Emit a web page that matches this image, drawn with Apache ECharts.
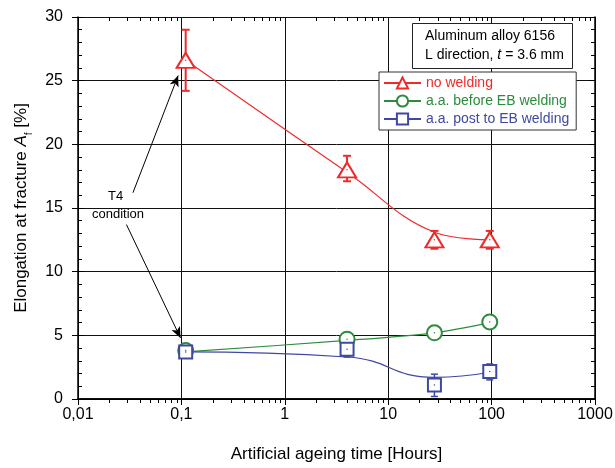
<!DOCTYPE html>
<html>
<head>
    <meta charset="utf-8"/>
    <title>Elongation at fracture</title>
    <script src="https://cdn.jsdelivr.net/npm/echarts@6/dist/echarts.min.js"></script>
    <style>
        html, body { margin: 0; padding: 0; background: #fff; }
        #chart1 { width: 615px; height: 468px; }
    </style>
</head>
<body>
<div id="chart1"></div>
<script type="text/javascript">
    // 数据
    var ageingTime = [0.11, 4, 28, 96];

    var noWelding = [26.6, 18.0, 12.5, 12.5];
    var noWeldingLow = [24.2, 17.1, 11.8, 11.8];
    var noWeldingHigh = [29.0, 19.1, 13.2, 13.2];
    var noWeldingFit = [26.6, 17.8, 13.1, 12.5];

    var beforeEB = [3.8, 4.7, 5.2, 6.05];
    var beforeEBLow = [3.5, 4.2, 5.0, 5.6];
    var beforeEBHigh = [4.0, 5.2, 5.4, 6.4];
    var beforeEBFit = [3.7, 4.6, 5.2, 6.0];

    var postEB = [3.7, 3.9, 1.1, 2.15];
    var postEBLow = [3.4, 3.3, 0.2, 1.5];
    var postEBHigh = [4.1, 4.6, 1.95, 2.75];
    var postEBFit = [3.7, 3.3, 1.7, 2.1];

    var seriesNames = ['no welding', 'a.a. before EB welding', 'a.a. post to EB welding'];
    var decades = [0.01, 0.1, 1, 10, 100];
    var minorSteps = [2, 3, 4, 5, 6, 7, 8, 9];

    var red = '#ee2b2b', green = '#2b8c3c', blue = '#3f48a3';
    var font = 'Liberation Sans, Arial, sans-serif';

    function pairs(ys) { return ageingTime.map(function (x, i) { return [x, ys[i]]; }); }
    function bars(lo, hi) { return ageingTime.map(function (x, i) { return [x, lo[i], hi[i]]; }); }

    // 对数轴次刻度 (2..9 x 10^n)
    var minorX = [];
    decades.forEach(function (d) { minorSteps.forEach(function (m) { minorX.push(d * m); }); });

    function errorBar(color, width, cap) {
        return function (params, api) {
            var x = api.value(0);
            var lo = api.coord([x, api.value(1)]);
            var hi = api.coord([x, api.value(2)]);
            var st = { stroke: color, lineWidth: width };
            return {
                type: 'group',
                children: [
                    { type: 'line', shape: { x1: lo[0], y1: lo[1], x2: hi[0], y2: hi[1] }, style: st },
                    { type: 'line', shape: { x1: lo[0] - cap, y1: lo[1], x2: lo[0] + cap, y2: lo[1] }, style: st },
                    { type: 'line', shape: { x1: hi[0] - cap, y1: hi[1], x2: hi[0] + cap, y2: hi[1] }, style: st }
                ]
            };
        };
    }

    function fmtX(v) { return String(parseFloat(v.toPrecision(6))).replace('.', ','); }

    function fitLine(name, ys, color, symbol, size, smooth) {
        return {
            name: name, type: 'line', data: pairs(ys), smooth: smooth,
            symbol: symbol, symbolSize: size, showSymbol: false,
            lineStyle: { color: color, width: 1.2 },
            itemStyle: { color: color, borderWidth: 1.2 },
            z: 3, silent: true
        };
    }

    function markers(ys, color, symbol, size) {
        return {
            type: 'scatter', data: pairs(ys), symbol: symbol, symbolSize: size,
            itemStyle: { color: color, borderColor: color, borderWidth: 1.3, opacity: 1 }, z: 5, silent: true
        };
    }

    function dots(ys, color) {
        return { type: 'scatter', data: pairs(ys), symbol: 'circle', symbolSize: 1.5,
            itemStyle: { color: color, opacity: 1 }, z: 6, silent: true };
    }

    var myChart1 = echarts.init(document.getElementById('chart1'));

    var yBase = { type: 'value', min: 0, max: 30, interval: 5 };

    myChart1.setOption({
        animation: false,
        backgroundColor: '#fff',
        textStyle: { fontFamily: font },
        title: {
            text: '{a|Aluminum alloy 6156}\n{a|L direction, }{i|t}{a| = 3.6 mm}',
            left: 412, top: 23,
            padding: [4, 9, 4, 13],
            borderColor: '#222', borderWidth: 1, backgroundColor: '#fff',
            textStyle: {
                fontFamily: font, fontWeight: 'normal', fontSize: 14, lineHeight: 19, color: '#000',
                rich: {
                    a: { fontFamily: font, fontSize: 14, lineHeight: 19, color: '#000' },
                    i: { fontFamily: font, fontSize: 14, lineHeight: 19, color: '#000', fontStyle: 'italic' }
                }
            }
        },
        legend: {
            orient: 'vertical', left: 379, top: 72,
            padding: [4, 7, 4, 4], itemGap: 4, itemWidth: 37, itemHeight: 14,
            borderColor: '#333', borderWidth: 1, backgroundColor: '#fff',
            selectedMode: false,
            textStyle: { fontFamily: font, fontSize: 14 },
            data: [
                { name: seriesNames[0], textStyle: { color: red } },
                { name: seriesNames[1], textStyle: { color: green } },
                { name: seriesNames[2], textStyle: { color: blue } }
            ]
        },
        grid: { left: 78, right: 20, top: 17, bottom: 69, outerBoundsMode: 'none' },
        xAxis: [{
            type: 'log', logBase: 10, min: 0.01, max: 1000, position: 'bottom',
            name: 'Artificial ageing time [Hours]', nameLocation: 'middle', nameGap: 47,
            nameTextStyle: { fontFamily: font, fontSize: 17, color: '#000' },
            axisLine: { lineStyle: { color: '#000', width: 1.5 } },
            axisTick: { show: true, length: 6, lineStyle: { color: '#000' } },
            axisLabel: { fontFamily: font, fontSize: 16, color: '#000', margin: 8, formatter: fmtX },
            splitLine: { show: true, lineStyle: { color: '#111', width: 1 } }
        }, {
            type: 'log', logBase: 10, min: 0.01, max: 1000, position: 'top',
            axisLine: { show: true, lineStyle: { color: '#000', width: 1.5 } },
            axisTick: { show: true, inside: true, length: 6, lineStyle: { color: '#000' } },
            axisLabel: { show: false }, splitLine: { show: false }
        }],
        yAxis: [Object.assign({}, yBase, {
            position: 'left',
            name: '{n|Elongation at fracture }{i|A}{s|f}{n| [%]}', nameLocation: 'middle', nameGap: 40,
            nameTextStyle: {
                fontFamily: font, fontSize: 17, color: '#000',
                rich: {
                    n: { fontFamily: font, fontSize: 17, color: '#000', lineHeight: 20 },
                    i: { fontFamily: font, fontSize: 17, color: '#000', fontStyle: 'italic', lineHeight: 20 },
                    s: { fontFamily: font, fontSize: 10, color: '#000', lineHeight: 26, verticalAlign: 'bottom' }
                }
            },
            axisLine: { show: true, lineStyle: { color: '#000', width: 1.5 } },
            axisTick: { show: true, length: 6, lineStyle: { color: '#000' } },
            axisLabel: { fontFamily: font, fontSize: 16, color: '#000', margin: 15 },
            splitLine: { show: true, lineStyle: { color: '#111', width: 1 } }
        }), Object.assign({}, yBase, {
            position: 'left',
            axisLine: { show: false },
            axisTick: { show: true, inside: true, length: 6, lineStyle: { color: '#000' } },
            minorTick: { show: true, splitNumber: 5, length: 4, lineStyle: { color: '#000' } },
            axisLabel: { show: false }, splitLine: { show: false }
        }), Object.assign({}, yBase, {
            position: 'right',
            axisLine: { show: true, lineStyle: { color: '#000', width: 1.5 } },
            axisTick: { show: true, inside: true, length: 6, lineStyle: { color: '#000' } },
            minorTick: { show: true, splitNumber: 5, length: 4, lineStyle: { color: '#000' } },
            axisLabel: { show: false }, splitLine: { show: false }
        })],
        series: [
            Object.assign(fitLine(seriesNames[0], noWeldingFit, red, 'emptyTriangle', [18, 15], 0.4), {
                markLine: {
                    silent: true, symbol: ['none', 'arrow'], symbolSize: [7, 11],
                    label: { show: false },
                    lineStyle: { color: '#000', width: 1, type: 'solid' },
                    data: [
                        [{ coord: [0.034, 16.2] }, { coord: [0.093, 25.4] }],
                        [{ coord: [0.0294, 13.7] }, { coord: [0.098, 4.8] }]
                    ]
                }
            }),
            fitLine(seriesNames[1], beforeEBFit, green, 'emptyCircle', 14, 0.3),
            fitLine(seriesNames[2], postEBFit, blue, 'emptyRect', 13, 0.5),

            { type: 'custom', renderItem: errorBar(red, 2, 4), data: bars(noWeldingLow, noWeldingHigh), silent: true, z: 4 },
            { type: 'custom', renderItem: errorBar(green, 1.5, 3.5), data: bars(beforeEBLow, beforeEBHigh), silent: true, z: 4 },
            { type: 'custom', renderItem: errorBar(blue, 1.5, 3.5), data: bars(postEBLow, postEBHigh), silent: true, z: 4 },

            markers(beforeEB, green, 'emptyCircle', 15),
            markers(postEB, blue, 'emptyRect', 13),
            markers(noWelding, red, 'emptyTriangle', [18, 15]),
            dots(beforeEB, green), dots(postEB, blue), dots(noWelding, red)
        ]
    });

    // 次刻度 + 注释文字
    var yBottom = myChart1.convertToPixel({ yAxisIndex: 0 }, 0);
    var yTop = myChart1.convertToPixel({ yAxisIndex: 0 }, 30);
    var extras = [
        { type: 'text', left: 108, top: 190, style: { text: 'T4', fontFamily: font, fontSize: 13, fill: '#000' } },
        { type: 'text', left: 92, top: 208, style: { text: 'condition', fontFamily: font, fontSize: 13, fill: '#000' } }
    ];
    minorX.forEach(function (v) {
        var px = Math.round(myChart1.convertToPixel({ xAxisIndex: 0 }, v)) + 0.5;
        extras.push({ type: 'line', silent: true, z: 10, shape: { x1: px, y1: yBottom, x2: px, y2: yBottom + 4 }, style: { stroke: '#000', lineWidth: 1 } });
        extras.push({ type: 'line', silent: true, z: 10, shape: { x1: px, y1: yTop, x2: px, y2: yTop + 4 }, style: { stroke: '#000', lineWidth: 1 } });
    });
    myChart1.setOption({ graphic: extras });
</script>
</body>
</html>
